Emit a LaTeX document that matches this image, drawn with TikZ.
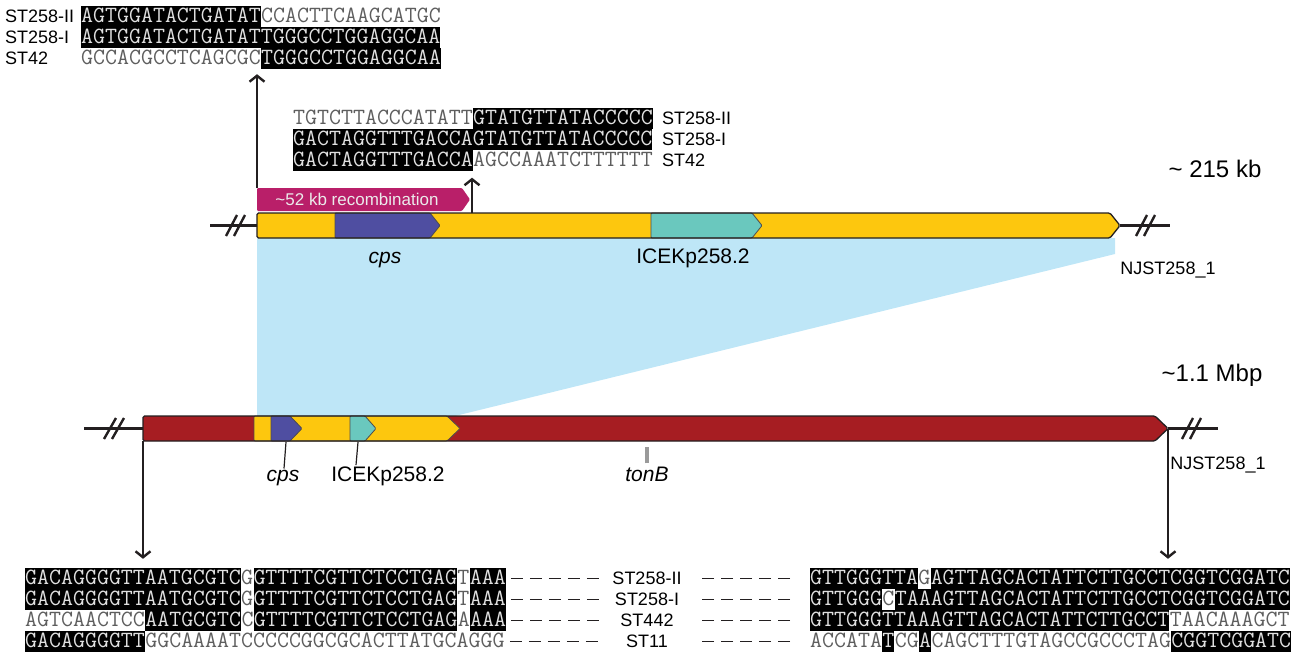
\documentclass[tikz,border=0pt]{standalone}
\usepackage{fontspec}
\setmainfont{Liberation Sans}
\usepackage{tikz}
\usetikzlibrary{arrows.meta,positioning}
\definecolor{bargold}{HTML}{FDC70E}
\definecolor{cpsblue}{HTML}{4F4EA1}
\definecolor{iceteal}{HTML}{6AC8BE}
\definecolor{chromred}{HTML}{A61D22}
\definecolor{recombpink}{HTML}{B91F69}
\definecolor{zoomblue}{HTML}{BEE6F7}
\definecolor{edgegray}{HTML}{231F20}
\definecolor{seqgray}{HTML}{5E5E5E}
\definecolor{tongray}{HTML}{9A9A9A}

\begin{document}
\begin{tikzpicture}[x=1pt,y=-1pt,
  seq/.style={font=\ttfamily\fontsize{23.25}{24}\selectfont,inner sep=0pt,
    minimum height=21pt,text height=14.5pt,text depth=2.5pt,anchor=west},
  dk/.style={seq,fill=black,text=white!88!black},
  lt/.style={seq,text=seqgray},
  strain/.style={font=\fontsize{18}{20}\selectfont,inner sep=0pt},
  genelbl/.style={font=\fontsize{21}{24}\selectfont,anchor=base,inner sep=1pt},
  sizelbl/.style={font=\fontsize{24}{28}\selectfont,anchor=base},
  contig/.style={font=\fontsize{18}{20}\selectfont,anchor=base},
  axisline/.style={line width=3pt,edgegray},
  brk/.style={line width=2.4pt,edgegray},
  mapedge/.style={draw=edgegray,line width=1.3pt,rounded corners=1.5pt},
  gene/.style={draw=edgegray!80,line width=0.8pt,rounded corners=1pt},
  pointer/.style={line width=2.4pt,edgegray,-{Straight Barb[length=6pt,width=15pt]}},
  gaps/.style={line width=1.4pt,edgegray,dash pattern=on 12pt off 7pt},
]
\useasboundingbox (0,0) rectangle (1292,653);

% shaded zoom between the two maps
\fill[zoomblue] (257,238) -- (1115,238) -- (1115,254) -- (455,416) -- (257,416) -- cycle;

% top alignment, left end of the recombination
\node[strain,anchor=west] (sa1) at (5,16.5) {ST258-II};
\node[strain,anchor=west] (sa2) at (5,37.5) {ST258-I};
\node[strain,anchor=west] (sa3) at (5,58.5) {ST42};
\node[dk] (a1a) at (81,16.5) {AGTGGATACTGATAT};
\node[lt,right=0pt of a1a] (a1b) {CCACTTCAAGCATGC};
\node[dk] (a2a) at (81,37.5) {AGTGGATACTGATATTGGGCCTGGAGGCAA};
\node[lt] (a3a) at (81,58.5) {GCCACGCCTCAGCGC};
\node[dk,right=0pt of a3a] (a3b) {TGGGCCTGGAGGCAA};

% top alignment, right end of the recombination
\node[lt] (b1a) at (293,118) {TGTCTTACCCATATT};
\node[dk,right=0pt of b1a] (b1b) {GTATGTTATACCCCC};
\node[dk] (b2a) at (293,139) {GACTAGGTTTGACCAGTATGTTATACCCCC};
\node[dk] (b3a) at (293,160) {GACTAGGTTTGACCA};
\node[lt,right=0pt of b3a] (b3b) {AGCCAAATCTTTTTT};
\node[strain,anchor=west] (sb1) at (662,118) {ST258-II};
\node[strain,anchor=west] (sb2) at (662,139) {ST258-I};
\node[strain,anchor=west] (sb3) at (662,160) {ST42};

% ~215 kb map
\node[sizelbl] (kb) at (1215,177) {\textasciitilde{} 215 kb};
\draw[axisline] (210,225.5) -- (257,225.5);
\draw[axisline] (1120,225.5) -- (1170,225.5);
\draw[brk] (226,236) -- (237,215) (234,236) -- (245,215);
\draw[brk] (1136,236) -- (1147,215) (1144,236) -- (1155,215);
\fill[bargold,rounded corners=1.5pt] (257,213) -- (1110,213) -- (1120,225.5) -- (1110,238) -- (257,238) -- cycle;
\draw[gene,fill=cpsblue] (335,213) -- (430,213) -- (440,225.5) -- (430,238) -- (335,238) -- cycle;
\draw[gene,fill=iceteal] (651,213) -- (752,213) -- (762,225.5) -- (752,238) -- (651,238) -- cycle;
\draw[mapedge] (257,213) -- (1110,213) -- (1120,225.5) -- (1110,238) -- (257,238) -- cycle;
\coordinate (recR) at (472,213);
\node[genelbl] (cpsT) at (385,263) {\itshape cps};
\node[genelbl] (iceT) at (693,263) {ICEKp258.2};
\node[contig] (njT) at (1168,274) {NJST258\_1};

% recombined block
\fill[recombpink,rounded corners=1pt] (257,188) coordinate (recL) -- (462,188) -- (470,199.5) -- (462,211) -- (257,211) -- cycle;
\node[font=\fontsize{17}{20}\selectfont,text=white!92!black] (recT) at (357,199.5) {\textasciitilde52 kb recombination};

\coordinate (alnA) at ([yshift=-5pt]a3a.south);
\coordinate (alnB) at ([yshift=-7pt]b3a.south);
\draw[pointer] (recL) -- (recL |- alnA);
\draw[pointer] (recR) -- (recR |- alnB);

% ~1.1 Mbp map
\node[sizelbl] (mbp) at (1212,381) {\textasciitilde1.1 Mbp};
\draw[axisline] (84,428.5) -- (143,428.5);
\draw[axisline] (1168,428.5) -- (1218,428.5);
\draw[brk] (104,439) -- (116,418) (112,439) -- (124,418);
\draw[brk] (1182,439) -- (1193,418) (1190,439) -- (1201,418);
\fill[chromred,rounded corners=1.5pt] (143,416) -- (1155,416) -- (1168,428.5) -- (1155,441) -- (143,441) -- cycle;
\draw[gene,fill=bargold] (254,416) -- (447,416) -- (460,428.5) -- (447,441) -- (254,441) -- cycle;
\draw[gene,fill=cpsblue] (271,416) -- (290,416) -- (302,428.5) -- (290,441) -- (271,441) -- cycle;
\draw[gene,fill=iceteal] (350,416) -- (365,416) -- (376,428.5) -- (365,441) -- (350,441) -- cycle;
\draw[mapedge] (143,416) -- (1155,416) -- (1168,428.5) coordinate (chrTip) -- (1155,441) -- (143,441) coordinate (chrL) -- cycle;

\node[genelbl] (cpsB) at (283,481) {\itshape cps};
\node[genelbl] (iceB) at (388,481) {ICEKp258.2};
\node[genelbl] (tonB) at (647,481) {\itshape tonB};
\node[contig] (njB) at (1218,469) {NJST258\_1};
\coordinate (cpsM) at (286,442);
\coordinate (iceM) at (358,442);
\draw[line width=1.2pt,edgegray] (cpsM) -- ([xshift=1pt]cpsB.north);
\draw[line width=1.2pt,edgegray] (iceM) -- ([xshift=-32pt]iceB.north);
\draw[line width=3.5pt,tongray] ([yshift=2pt]tonB.north) -- ++(0,-16);

% bottom alignment, both junctions
\node[dk] (c1a) at (25,578.5) {GACAGGGGTTAATGCGTC};
\node[lt,right=0pt of c1a] (c1b) {G};
\node[dk,right=0pt of c1b] (c1c) {GTTTTCGTTCTCCTGAG};
\node[lt,right=0pt of c1c] (c1d) {T};
\node[dk,right=0pt of c1d] (c1e) {AAA};
\node[dk] (c2a) at (25,599.5) {GACAGGGGTTAATGCGTC};
\node[lt,right=0pt of c2a] (c2b) {G};
\node[dk,right=0pt of c2b] (c2c) {GTTTTCGTTCTCCTGAG};
\node[lt,right=0pt of c2c] (c2d) {T};
\node[dk,right=0pt of c2d] (c2e) {AAA};
\node[lt] (c3a) at (25,620.5) {AGTCAACTCC};
\node[dk,right=0pt of c3a] (c3b) {AATGCGTC};
\node[lt,right=0pt of c3b] (c3c) {C};
\node[dk,right=0pt of c3c] (c3d) {GTTTTCGTTCTCCTGAG};
\node[lt,right=0pt of c3d] (c3e) {A};
\node[dk,right=0pt of c3e] (c3f) {AAA};
\node[dk] (c4a) at (25,641.5) {GACAGGGGTT};
\node[lt,right=0pt of c4a] (c4b) {GGCAAAATCCCCCGGCGCACTTATGCAGGG};

\node[dk] (d1a) at (810,578.5) {GTTGGGTTA};
\node[lt,right=0pt of d1a] (d1b) {G};
\node[dk,right=0pt of d1b] (d1c) {AGTTAGCACTATTCTTGCCTCGGTCGGATC};
\node[dk] (d2a) at (810,599.5) {GTTGGG};
\node[lt,right=0pt of d2a] (d2b) {C};
\node[dk,right=0pt of d2b] (d2c) {TAAAGTTAGCACTATTCTTGCCTCGGTCGGATC};
\node[dk] (d3a) at (810,620.5) {GTTGGGTTAAAGTTAGCACTATTCTTGCCT};
\node[lt,right=0pt of d3a] (d3b) {TAACAAAGCT};
\node[lt] (d4a) at (810,641.5) {ACCATA};
\node[dk,right=0pt of d4a] (d4b) {T};
\node[lt,right=0pt of d4b] (d4c) {CG};
\node[dk,right=0pt of d4c] (d4d) {A};
\node[lt,right=0pt of d4d] (d4e) {CAGCTTTGTAGCCGCCCTAG};
\node[dk,right=0pt of d4e] (d4f) {CGGTCGGATC};

\node[strain] (m1) at (647,578.5) {ST258-II};
\node[strain] (m2) at (647,599.5) {ST258-I};
\node[strain] (m3) at (647,620.5) {ST442};
\node[strain] (m4) at (647,641.5) {ST11};
\draw[gaps] ([xshift=5pt]c1e.east) -- ++(90,0);
\draw[gaps] ([xshift=5pt]c2e.east) -- ++(90,0);
\draw[gaps] ([xshift=5pt]c3f.east) -- ++(90,0);
\draw[gaps] ([xshift=5pt]c4b.east) -- ++(90,0);
\draw[gaps] ([xshift=-20pt]d1a.west) -- ++(-90,0);
\draw[gaps] ([xshift=-20pt]d2a.west) -- ++(-90,0);
\draw[gaps] ([xshift=-20pt]d3a.west) -- ++(-90,0);
\draw[gaps] ([xshift=-20pt]d4a.west) -- ++(-90,0);

\coordinate (alnC) at ([yshift=9pt]c1a.north);
\draw[pointer] (chrL) -- (chrL |- alnC);
\draw[pointer] (chrTip) -- (chrTip |- alnC);

\end{tikzpicture}
\end{document}
